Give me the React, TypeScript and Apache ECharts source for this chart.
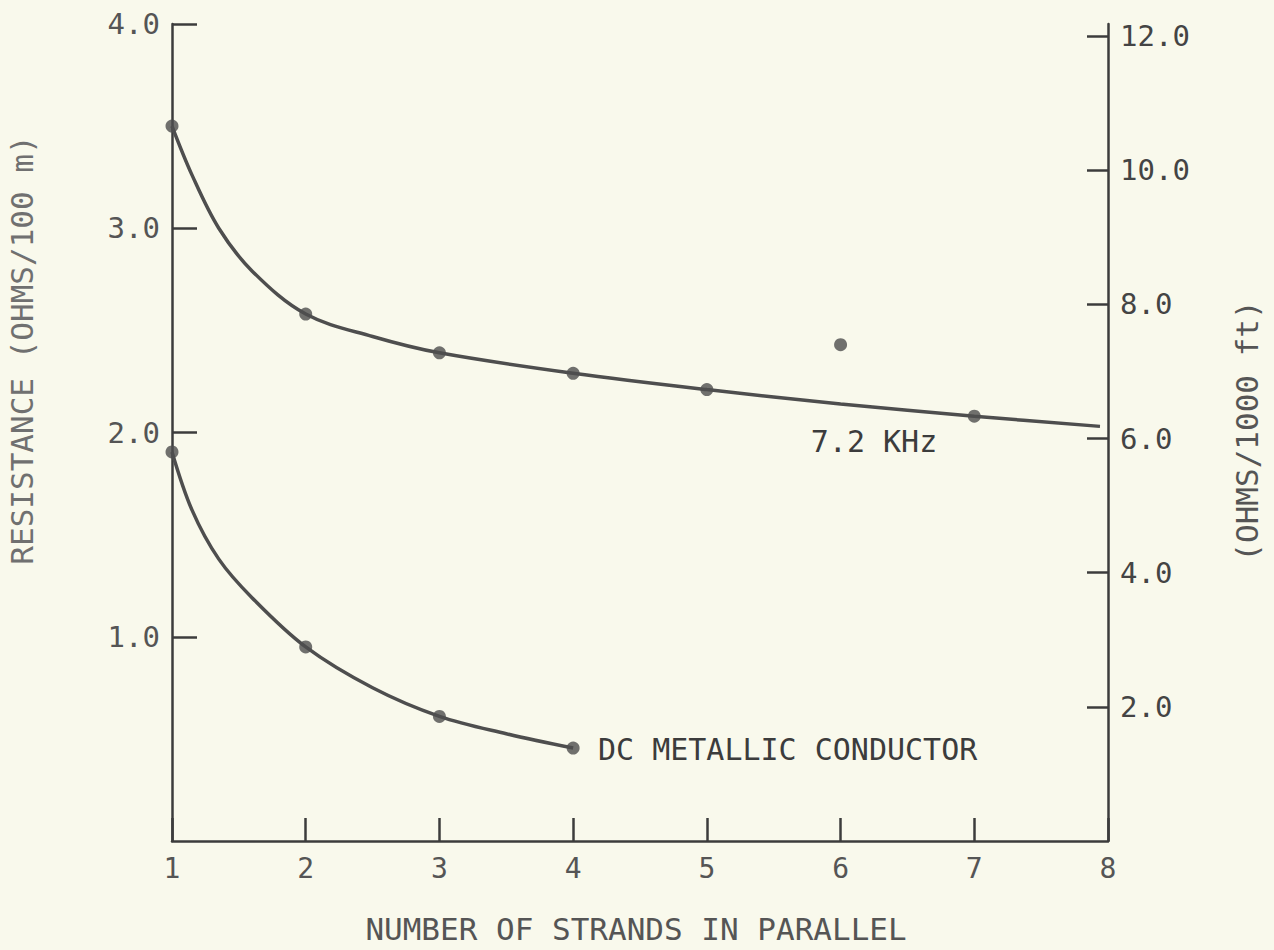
import React, { useEffect, useRef } from "react";
import * as echarts from "echarts";

// Resistance per 100 m versus number of parallel strands
const khzMeasured: [number, number][] = [
  [1, 3.5], [2, 2.58], [3, 2.39], [4, 2.29], [5, 2.21], [6, 2.43], [7, 2.08],
];
const khzCurve: [number, number][] = [
  [1, 3.5], [1.15, 3.26], [1.35, 3.0], [1.6, 2.79], [2, 2.58], [2.5, 2.47],
  [3, 2.39], [4, 2.29], [5, 2.21], [6, 2.14], [7, 2.08], [7.94, 2.03],
];
const dcMeasured: [number, number][] = [
  [1, 1.905], [2, 0.95], [3, 0.61], [4, 0.455],
];
const dcCurve: [number, number][] = [
  [1, 1.905], [1.15, 1.62], [1.35, 1.38], [1.6, 1.19], [2, 0.95], [2.5, 0.75],
  [3, 0.61], [3.5, 0.525], [4, 0.455],
];
const rightTicks = [2, 4, 6, 8, 10, 12];

const FONT = "DejaVu Sans Mono";
const INK = "#3c3c3c";
const LINE = "#4e4e4e";

export default function App() {
  const ref = useRef<HTMLDivElement>(null);

  useEffect(() => {
    if (!ref.current) return;
    const chart = echarts.init(ref.current, undefined, { renderer: "svg" });

    const axisLine = { show: true, lineStyle: { color: INK, width: 2.5 } };

    chart.setOption({
      animation: false,
      backgroundColor: "#f9f9ec",
      grid: { left: 172, right: 166, top: 24, bottom: 109, containLabel: false },
      xAxis: {
        type: "value",
        min: 1,
        max: 8,
        interval: 1,
        axisLine,
        axisTick: { show: true, inside: true, length: 23, lineStyle: { color: INK, width: 2.5 } },
        axisLabel: { margin: 13, color: "#555", fontFamily: FONT, fontSize: 28 },
        splitLine: { show: false },
      },
      yAxis: [
        {
          type: "value",
          position: "left",
          min: 0,
          max: 4,
          interval: 1,
          axisLine,
          axisTick: { show: true, inside: true, length: 25, lineStyle: { color: INK, width: 2.5 } },
          axisLabel: {
            margin: 12,
            color: "#555",
            fontFamily: FONT,
            fontSize: 29,
            showMinLabel: false,
            formatter: (v: number) => v.toFixed(1),
          },
          splitLine: { show: false },
        },
        {
          type: "value",
          position: "right",
          min: 0,
          max: 12.18,
          axisLine,
          axisTick: {
            show: true,
            inside: true,
            length: 21,
            customValues: rightTicks,
            lineStyle: { color: INK, width: 2.5 },
          },
          axisLabel: {
            margin: 12,
            color: "#444",
            fontFamily: FONT,
            fontSize: 29,
            customValues: rightTicks,
            formatter: (v: number) => v.toFixed(1),
          },
          splitLine: { show: false },
        },
      ],
      series: [
        {
          name: "7.2 KHz curve",
          type: "line",
          data: khzCurve,
          smooth: 0.35,
          showSymbol: false,
          lineStyle: { color: LINE, width: 3.5 },
        },
        {
          name: "7.2 KHz",
          type: "scatter",
          data: khzMeasured,
          symbolSize: 13,
          itemStyle: { color: LINE },
        },
        {
          name: "DC curve",
          type: "line",
          data: dcCurve,
          smooth: 0.35,
          showSymbol: false,
          lineStyle: { color: LINE, width: 3.5 },
        },
        {
          name: "DC metallic conductor",
          type: "scatter",
          data: dcMeasured,
          symbolSize: 13,
          itemStyle: { color: LINE },
        },
      ],
      graphic: [
        {
          type: "text",
          x: 22,
          y: 350,
          rotation: Math.PI / 2,
          style: {
            text: "RESISTANCE (OHMS/100 m)",
            fill: "#707070",
            font: `31px "${FONT}"`,
            align: "center",
            verticalAlign: "middle",
          },
        },
        {
          type: "text",
          x: 1247,
          y: 431,
          rotation: Math.PI / 2,
          style: {
            text: "(OHMS/1000 ft)",
            fill: "#555",
            font: `31px "${FONT}"`,
            align: "center",
            verticalAlign: "middle",
          },
        },
        {
          type: "text",
          x: 636,
          y: 929,
          style: {
            text: "NUMBER OF STRANDS IN PARALLEL",
            fill: "#555",
            font: `31px "${FONT}"`,
            align: "center",
            verticalAlign: "middle",
          },
        },
        {
          type: "text",
          x: 874,
          y: 441,
          style: {
            text: "7.2 KHz",
            fill: INK,
            font: `30px "${FONT}"`,
            align: "center",
            verticalAlign: "middle",
          },
        },
        {
          type: "text",
          x: 598,
          y: 749,
          style: {
            text: "DC METALLIC CONDUCTOR",
            fill: INK,
            font: `30px "${FONT}"`,
            align: "left",
            verticalAlign: "middle",
          },
        },
      ],
    });

    return () => chart.dispose();
  }, []);

  return (
    <div
      ref={ref}
      style={{ position: "absolute", left: 0, top: 0, width: 1274, height: 950 }}
    />
  );
}
